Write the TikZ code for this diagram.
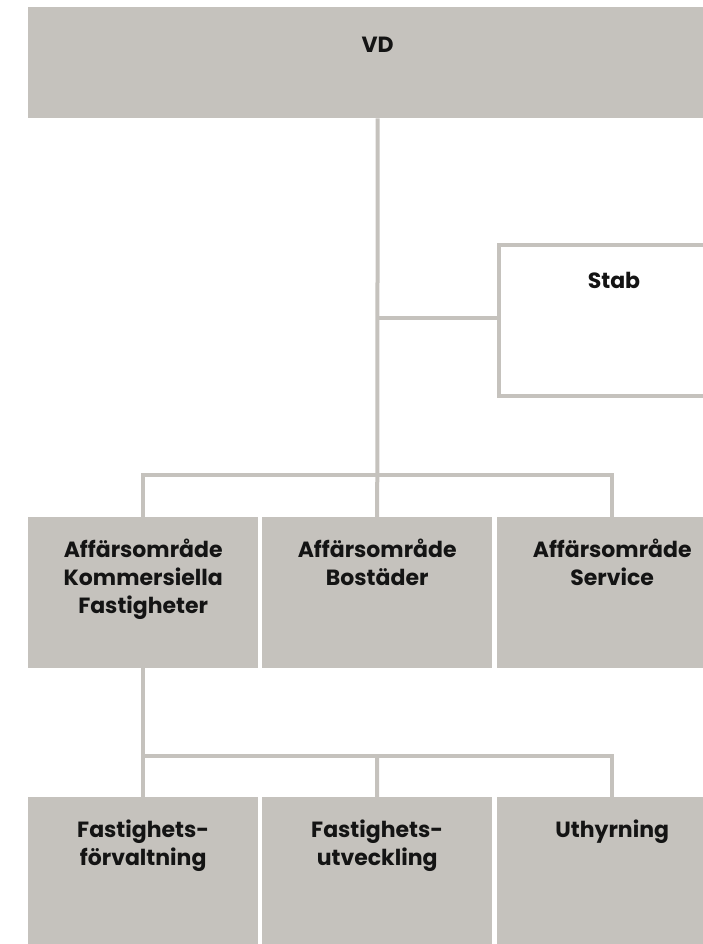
\documentclass[tikz,border=0pt]{standalone}
\usepackage{fontspec}
\setmainfont{Poppins}
\definecolor{boxgray}{RGB}{197,194,189}
\definecolor{txt}{RGB}{20,20,20}
\newcommand{\mlines}[1]{\begin{tabular}[t]{@{}c@{}}#1\end{tabular}}
\begin{document}
\begin{tikzpicture}[x=1pt,y=-1pt,
  box/.style={draw=none,fill=boxgray,inner sep=0pt,anchor=north west,minimum width=230pt},
  outbox/.style={draw=boxgray,line width=4pt,fill=white,inner sep=0pt,anchor=north west},
  lbl/.style={anchor=base,inner sep=0pt,text=txt,font=\fontsize{22}{28}\selectfont\bfseries},
  conn/.style={draw=boxgray,line width=4pt}]
\useasboundingbox (0,0) rectangle (703,944);
\clip (0,0) rectangle (703,944);
% boxes
\node[box,minimum width=699pt,minimum height=111pt] (vd) at (28,7) {};
\node[outbox,minimum width=230pt,minimum height=151pt] (stab) at (497,243) {};
\node[box,minimum height=151pt] (a1) at (28,517) {};
\node[box,minimum height=151pt] (a2) at (262,517) {};
\node[box,minimum height=151pt] (a3) at (497,517) {};
\node[box,minimum height=160pt] (f1) at (28,797) {};
\node[box,minimum height=160pt] (f2) at (262,797) {};
\node[box,minimum height=160pt] (f3) at (497,797) {};
% connectors
\coordinate (bus1) at (377,475);
\coordinate (bus2) at (377,756);
\coordinate (stabin) at ([yshift=2.5pt]stab.west);
\draw[conn] (vd.south) -- (a2.north);
\draw[conn] (vd.south |- stabin) -- (stabin);
\draw[conn] (a1.north) |- (bus1) -| (a3.north);
\draw[conn] (a1.south) -- (f1.north);
\draw[conn] (f1.north) |- (bus2) -| (f3.north);
\draw[conn] (bus2) -- (f2.north);
% labels
\node[lbl] (vdt) at ([yshift=-46pt]vd.north) {VD};
\node[lbl] (stabt) at ([yshift=-45pt]stab.north) {Stab};
\node[lbl] (a1t) at ([yshift=-40pt]a1.north) {\mlines{Affärsområde\\Kommersiella\\Fastigheter}};
\node[lbl] (a2t) at ([yshift=-40pt]a2.north) {\mlines{Affärsområde\\Bostäder}};
\node[lbl] (a3t) at ([yshift=-40pt]a3.north) {\mlines{Affärsområde\\Service}};
\node[lbl] (f1t) at ([yshift=-40pt]f1.north) {\mlines{Fastighets-\\förvaltning}};
\node[lbl] (f2t) at ([yshift=-40pt]f2.north) {\mlines{Fastighets-\\utveckling}};
\node[lbl] (f3t) at ([yshift=-40pt]f3.north) {Uthyrning};
\end{tikzpicture}
\end{document}
